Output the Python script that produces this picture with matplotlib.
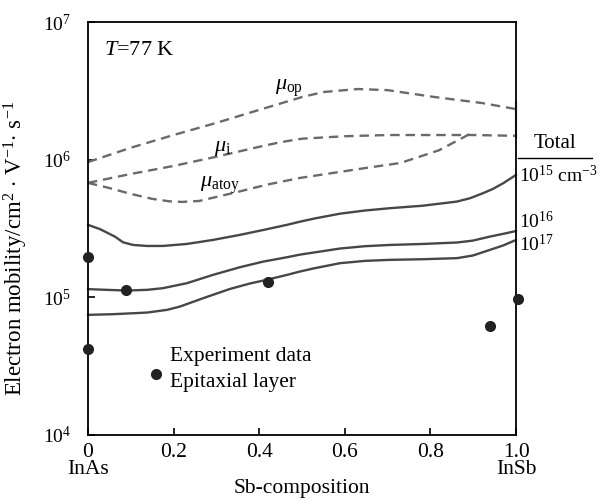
import numpy as np
import matplotlib
matplotlib.use("Agg")
import matplotlib.pyplot as plt

plt.rcParams['font.family'] = ['Liberation Serif', 'DejaVu Serif']
plt.rcParams['mathtext.fontset'] = 'custom'
plt.rcParams['mathtext.rm'] = 'Liberation Serif'
plt.rcParams['mathtext.it'] = 'Liberation Serif:italic'
plt.rcParams['mathtext.bf'] = 'Liberation Serif:bold'

# dashed model curves (scattering limited mobilities)
x_op = [0, 0.1, 0.2, 0.3, 0.4, 0.5, 0.55, 0.63, 0.7, 0.81, 0.92, 1.0]
mu_op = [9.6e5, 1.22e6, 1.51e6, 1.85e6, 2.3e6, 2.85e6, 3.1e6, 3.26e6, 3.2e6, 2.85e6, 2.58e6, 2.33e6]

x_i = [0, 0.1, 0.2, 0.3, 0.4, 0.45, 0.5, 0.6, 0.7, 0.8, 0.9, 1.0]
mu_i = [6.78e5, 7.87e5, 9.0e5, 1.05e6, 1.24e6, 1.34e6, 1.42e6, 1.48e6, 1.51e6, 1.51e6, 1.51e6, 1.49e6]

x_atoy = [0, 0.05, 0.1, 0.15, 0.19, 0.22, 0.26, 0.34, 0.42, 0.495, 0.65, 0.73, 0.82, 0.875, 0.9]
mu_atoy = [6.78e5, 6.22e5, 5.64e5, 5.19e5, 4.98e5, 4.93e5, 5.01e5, 5.73e5, 6.6e5, 7.36e5,
           8.71e5, 9.46e5, 1.17e6, 1.44e6, 1.59e6]

# total mobility for three carrier concentrations
x_15 = [0, 0.028, 0.063, 0.082, 0.105, 0.138, 0.175, 0.231, 0.292, 0.355, 0.409, 0.465, 0.495,
        0.53, 0.589, 0.647, 0.706, 0.783, 0.862, 0.893, 0.923, 0.946, 0.97, 1.0]
mu_15 = [3.36e5, 3.13e5, 2.76e5, 2.51e5, 2.40e5, 2.36e5, 2.36e5, 2.44e5, 2.61e5, 2.84e5, 3.08e5, 3.36e5, 3.54e5,
         3.74e5, 4.05e5, 4.27e5, 4.44e5, 4.63e5, 4.96e5, 5.25e5, 5.71e5, 6.13e5, 6.74e5, 7.75e5]

x_16 = [0, 0.044, 0.091, 0.138, 0.175, 0.231, 0.292, 0.355, 0.409, 0.465, 0.495,
        0.53, 0.589, 0.647, 0.706, 0.783, 0.862, 0.899, 0.939, 0.97, 1.0]
mu_16 = [1.146e5, 1.132e5, 1.119e5, 1.132e5, 1.164e5, 1.265e5, 1.454e5, 1.653e5, 1.815e5, 1.954e5, 2.04e5,
         2.12e5, 2.26e5, 2.35e5, 2.40e5, 2.44e5, 2.50e5, 2.58e5, 2.76e5, 2.89e5, 3.03e5]

x_17 = [0, 0.058, 0.138, 0.185, 0.215, 0.269, 0.332, 0.379, 0.418, 0.465, 0.495,
        0.53, 0.589, 0.647, 0.706, 0.783, 0.862, 0.899, 0.939, 0.97, 1.0]
mu_17 = [7.45e4, 7.53e4, 7.74e4, 8.10e4, 8.56e4, 9.84e4, 1.15e5, 1.26e5, 1.34e5, 1.454e5, 1.538e5,
         1.627e5, 1.769e5, 1.838e5, 1.87e5, 1.89e5, 1.924e5, 2.01e5, 2.21e5, 2.38e5, 2.61e5]

# experiment data
x_exp = [0, 0, 0.09, 0.42, 0.94, 1.005]
mu_exp = [1.96e5, 4.22e4, 1.13e5, 1.29e5, 6.2e4, 9.7e4]

xticks = [0, 0.2, 0.4, 0.6, 0.8, 1.0]
xticklabels = ['0', '0.2', '0.4', '0.6', '0.8', '1.0']

fig = plt.figure(figsize=(5.98, 5.01), dpi=100)
ax = fig.add_axes([0.147, 0.132, 0.716, 0.824])

dash_col = '#6a6a6a'
solid_col = '#474747'
for xs, ys in [(x_op, mu_op), (x_i, mu_i), (x_atoy, mu_atoy)]:
    ax.plot(xs, ys, color=dash_col, lw=1.7, dashes=(4, 2.5), clip_on=False)
# faint vertical stroke at the right edge between the op and i curves
ax.plot([1.0, 1.0], [2.62e6, 1.46e6], color='#9a9a9a', lw=1.6, clip_on=False)
for xs, ys in [(x_15, mu_15), (x_16, mu_16), (x_17, mu_17)]:
    ax.plot(xs, ys, color=solid_col, lw=1.7, clip_on=False, solid_capstyle='round')

ax.plot(x_exp, mu_exp, 'o', color='#222222', ms=7, clip_on=False, zorder=5)

ax.set_yscale('log')
ax.set_xlim(0, 1.0)
ax.set_ylim(1e4, 1e7)
ax.set_yticks([1e4, 1e5, 1e6, 1e7])
ax.yaxis.set_minor_locator(matplotlib.ticker.NullLocator())
ax.set_xticks(xticks)
ax.set_xticklabels(xticklabels)
ax.tick_params(direction='in', length=5, width=1.2, top=False, right=False)
ax.tick_params(axis='x', pad=6, labelsize=15.5)
ax.tick_params(axis='y', pad=12, labelsize=14)
for s in ax.spines.values():
    s.set_linewidth(1.3)

fig.text(16 / 598, 1 - 248 / 501, 'Electron mobility/cm$^2$ $\\cdot$ V$^{-1}$$\\cdot$ s$^{-1}$',
         rotation=90, ha='center', va='center', fontsize=16.5)

tr = ax.transAxes
ax.text(0.5, -0.131, 'Sb-composition', transform=tr, ha='center', va='center', fontsize=15.5)
ax.text(0, -0.085, 'InAs', transform=tr, ha='center', va='center', fontsize=15.5)
ax.text(1.0, -0.085, 'InSb', transform=tr, ha='center', va='center', fontsize=15.5)

ax.text(0.038, 0.932, '$T$=77 K', transform=tr, ha='left', va='center', fontsize=16)
ax.text(0.437, 3.3e6, '$\\mu_{\\rm op}$', ha='left', va='center', fontsize=16)
ax.text(0.295, 1.2e6, '$\\mu_{\\rm i}$', ha='left', va='center', fontsize=16)
ax.text(0.262, 6.5e5, '$\\mu_{\\rm atoy}$', ha='left', va='center', fontsize=16)

# legend
ax.plot([0.159], [2.78e4], 'o', color='#222222', ms=7)
ax.text(0.192, 0.189, 'Experiment data', transform=tr, ha='left', va='center', fontsize=15.5)
ax.text(0.192, 0.128, 'Epitaxial layer', transform=tr, ha='left', va='center', fontsize=15.5)

# right side labels
ax.text(1.091, 0.707, 'Total', transform=tr, ha='center', va='center', fontsize=15)
ax.plot([1.005, 1.178], [0.671, 0.671], transform=tr, color='black', lw=1.0, clip_on=False)
ax.text(1.008, 0.629, '10$^{15}$ cm$^{-3}$', transform=tr, ha='left', va='center', fontsize=14)
ax.text(1.008, 0.517, '10$^{16}$', transform=tr, ha='left', va='center', fontsize=14)
ax.text(1.008, 0.46, '10$^{17}$', transform=tr, ha='left', va='center', fontsize=14)

fig.savefig('out.png', dpi=100)
